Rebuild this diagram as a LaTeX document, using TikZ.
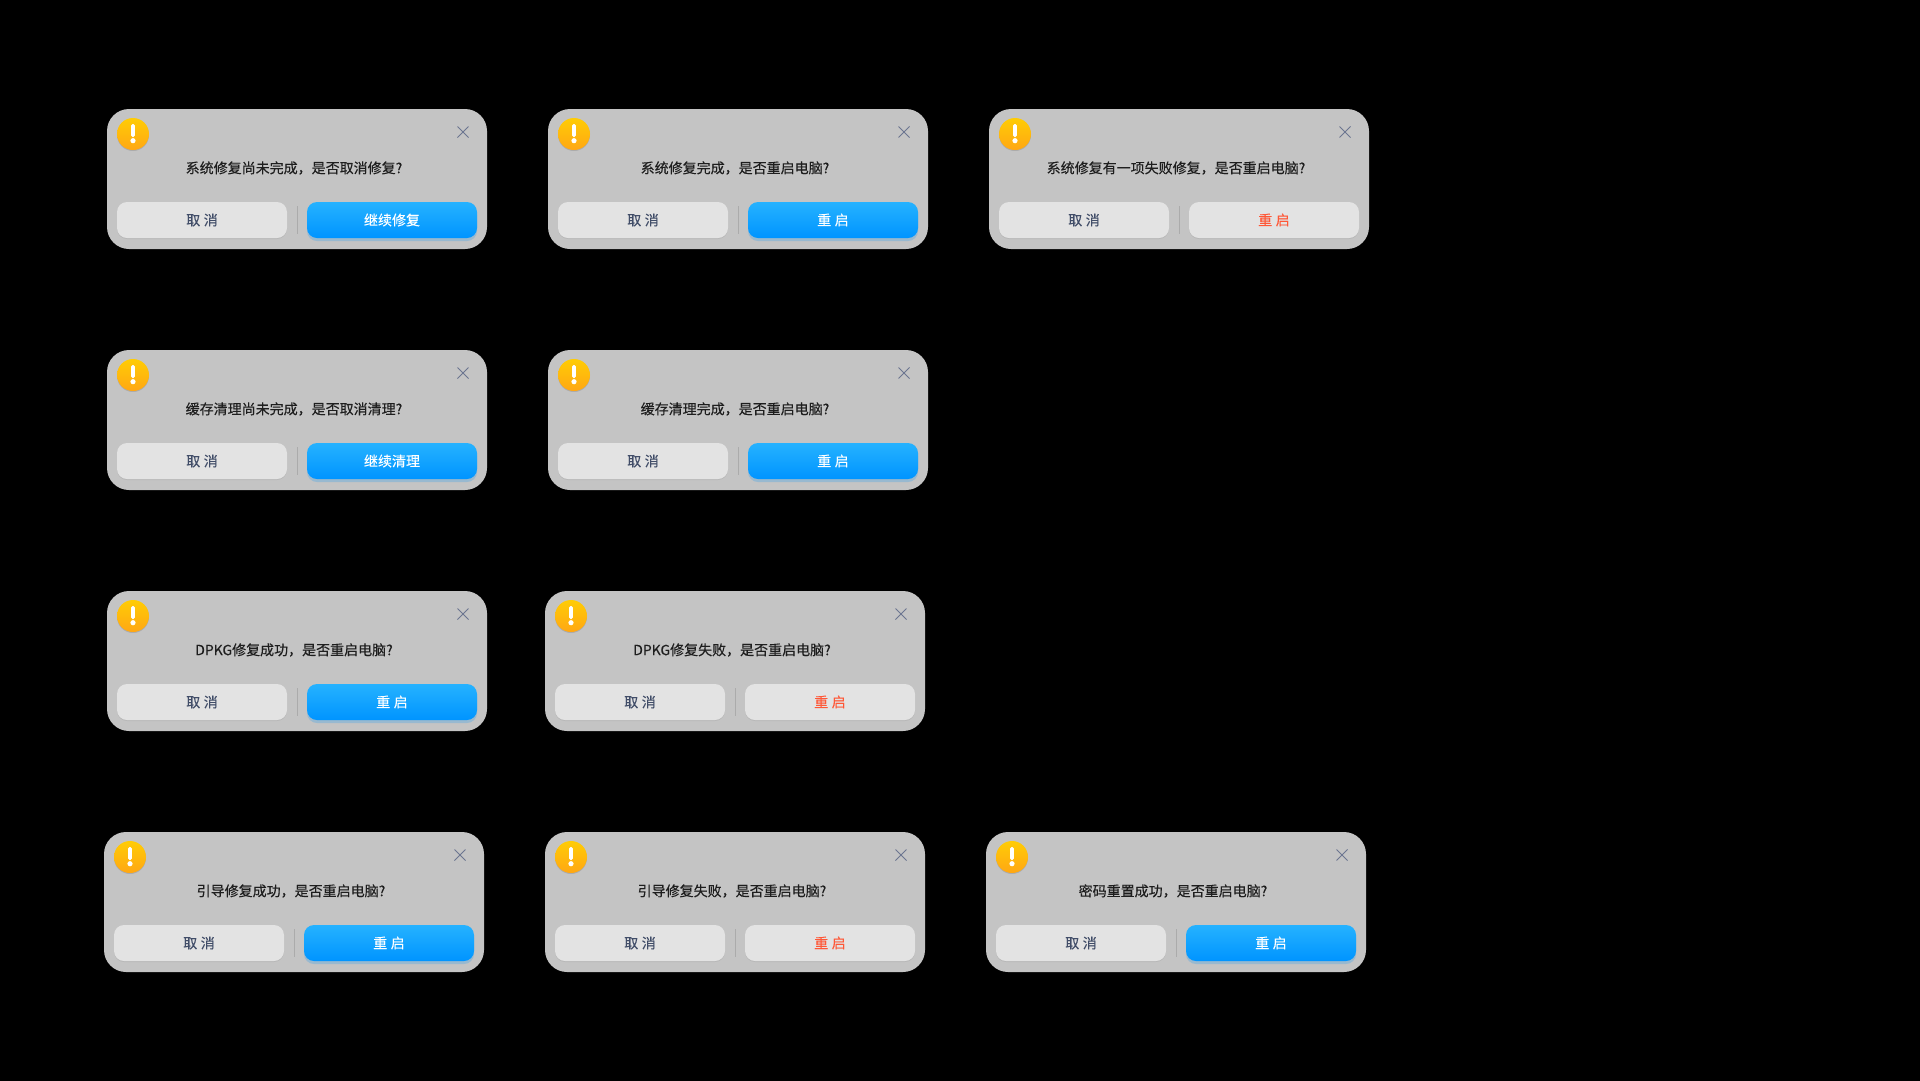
\documentclass[tikz,border=0pt]{standalone}
\usepackage{xcolor}
\usepackage{fontspec}
\setmainfont{Noto Sans CJK SC}[FakeBold=0.25]
\usetikzlibrary{positioning, shadows, calc}

\definecolor{dlggray}{HTML}{C4C4C4}
\definecolor{btngray}{HTML}{E3E3E3}
\definecolor{msgtext}{HTML}{1E1E1E}
\definecolor{canceltext}{HTML}{414D68}
\definecolor{warntext}{HTML}{FF5736}
\definecolor{closegray}{HTML}{6B7590}
\definecolor{sepgray}{HTML}{ABABAB}
\definecolor{blue1}{HTML}{25B2FF}
\definecolor{blue2}{HTML}{0094FF}
\definecolor{yellow1}{HTML}{FFCC05}
\definecolor{yellow2}{HTML}{FFA714}
\newcommand{\gapp}{\hspace{3.5pt}}

\begin{document}
\begin{tikzpicture}[x=1pt, y=-1pt,
  dialog/.style={fill=dlggray, rounded corners=22pt, minimum width=380pt, minimum height=140pt, inner sep=0pt, outer sep=0pt, anchor=north west},
  btn/.style={rounded corners=10pt, minimum width=170pt, minimum height=36pt, inner sep=0pt, outer sep=0pt, font=\fontsize{14}{14}\selectfont},
  cancelbtn/.style={btn, fill=btngray, text=canceltext, drop shadow={shadow xshift=0pt, shadow yshift=-1pt, fill=black, opacity=0.06}},
  primarybtn/.style={btn, top color=blue1, bottom color=blue2, text=white, drop shadow={shadow xshift=0pt, shadow yshift=-3pt, fill=blue2, opacity=0.22}},
  warnbtn/.style={btn, fill=btngray, text=warntext, drop shadow={shadow xshift=0pt, shadow yshift=-1pt, fill=black, opacity=0.06}},
  warnicon/.style={circle, minimum size=32pt, inner sep=0pt, top color=yellow1, bottom color=yellow2, drop shadow={shadow xshift=0pt, shadow yshift=-1pt, fill=black, opacity=0.12}},
  msg/.style={text=msgtext, inner sep=0pt, font=\fontsize{14}{14}\selectfont},
  sep/.style={draw=sepgray, line width=0.9pt},
  closex/.style={draw=closegray, line width=0.9pt}]
  \useasboundingbox (0,0) rectangle (1920,1080);
  \fill[black] (-10,-10) rectangle (1930,1090);
  \foreach \i/\dx/\dy/\txt/\btnstyle/\lbl in {
    a/107/109/系统修复尚未完成，是否取消修复?/primarybtn/继续修复,
    b/548/109/系统修复完成，是否重启电脑?/primarybtn/重\gapp 启,
    c/989/109/系统修复有一项失败修复，是否重启电脑?/warnbtn/重\gapp 启,
    d/107/350/缓存清理尚未完成，是否取消清理?/primarybtn/继续清理,
    e/548/350/缓存清理完成，是否重启电脑?/primarybtn/重\gapp 启,
    f/107/591/DPKG修复成功，是否重启电脑?/primarybtn/重\gapp 启,
    g/545/591/DPKG修复失败，是否重启电脑?/warnbtn/重\gapp 启,
    h/104/832/引导修复成功，是否重启电脑?/primarybtn/重\gapp 启,
    i/545/832/引导修复失败，是否重启电脑?/warnbtn/重\gapp 启,
    j/986/832/密码重置成功，是否重启电脑?/primarybtn/重\gapp 启} {
    \node[dialog] (dlg\i) at (\dx,\dy) {};
    \node[warnicon] (icon\i) at ($(dlg\i.north west)+(26,25)$) {};
    \fill[white, rounded corners=1.5pt] ($(icon\i.center)+(-1.8,-10)$) rectangle ($(icon\i.center)+(1.8,3)$);
    \fill[white] ($(icon\i.center)+(0,6.7)$) circle (2.6pt);
    \coordinate (close\i) at ($(dlg\i.north east)+(-24,23)$);
    \draw[closex] ($(close\i)+(-5.5,-5.5)$) -- ($(close\i)+(5.5,5.5)$);
    \draw[closex] ($(close\i)+(-5.5,5.5)$) -- ($(close\i)+(5.5,-5.5)$);
    \node[msg] (msg\i) at ($(dlg\i.north)+(-3,59)$) {\txt};
    \node[cancelbtn] (cancel\i) at ($(dlg\i.south west)+(95,-29)$) {取\gapp 消};
    \node[\btnstyle] (ok\i) at ($(dlg\i.south east)+(-95,-29)$) {\lbl};
    \coordinate (sept\i) at ($(dlg\i.south)+(0.5,-43)$);
    \coordinate (sepb\i) at ($(dlg\i.south)+(0.5,-15)$);
    \draw[sep] (sept\i) -- (sepb\i);
  }
\end{tikzpicture}
\end{document}
